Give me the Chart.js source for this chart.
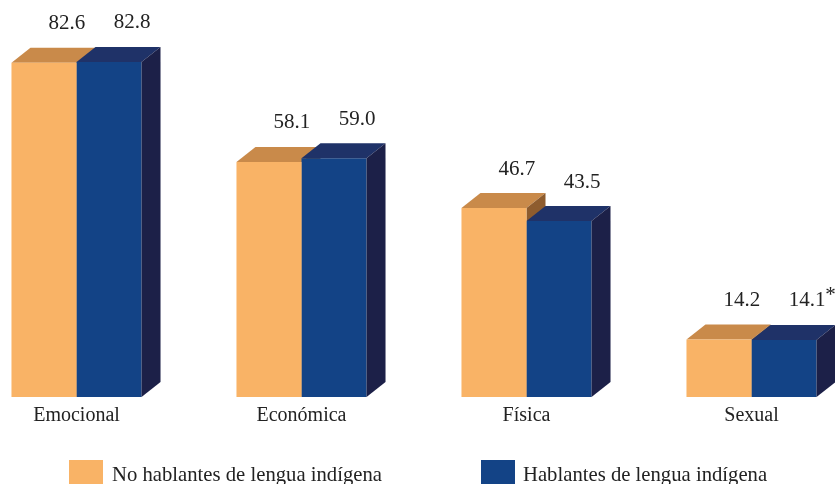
<!DOCTYPE html>
<html lang="es">
<head>
  <meta charset="UTF-8">
  <title>Tipos de violencia</title>
  <script src="https://cdn.jsdelivr.net/npm/chart.js"></script>
  <style>
    body { margin: 0; background: #fff; }
    #wrap { position: relative; width: 835px; height: 484px; overflow: hidden; }
    #chart { display: block; }
    .box { position: absolute; top: 460px; width: 34px; height: 24px; }
    .leg { position: absolute; top: 463px; font-family: "Liberation Serif", serif; font-size: 20.7px; color: #222; white-space: nowrap; }
  </style>
</head>
<body>
<div id="wrap">
  <canvas id="chart" width="835" height="484"></canvas>
  <div class="box" style="left:69px; background:#F9B366"></div>
  <div class="leg" style="left:112px">No hablantes de lengua indígena</div>
  <div class="box" style="left:481px; background:#134386"></div>
  <div class="leg" style="left:523px">Hablantes de lengua indígena</div>
</div>

<script>
  const categories = ["Emocional", "Económica", "Física", "Sexual"];
  const noHablantes = [82.6, 58.1, 46.7, 14.2];
  const hablantes = [82.8, 59.0, 43.5, 14.1];
  const hablantesNotes = ["", "", "", "*"];

  // front, top, side colours of each series
  const shades = [
    { front: "#F9B366", top: "#C98A4A", side: "#8E5C2E" },
    { front: "#134386", top: "#1F3268", side: "#1C2048" }
  ];
  const depthX = 19, depthY = 15;

  function drawBox(ctx, bar, shade) {
    const left = bar.x - bar.width / 2, right = bar.x + bar.width / 2;
    const top = bar.y, base = bar.base;
    ctx.fillStyle = shade.top;
    ctx.beginPath();
    ctx.moveTo(left, top);
    ctx.lineTo(left + depthX, top - depthY);
    ctx.lineTo(right + depthX, top - depthY);
    ctx.lineTo(right, top);
    ctx.closePath();
    ctx.fill();
    ctx.fillStyle = shade.side;
    ctx.beginPath();
    ctx.moveTo(right, top);
    ctx.lineTo(right + depthX, top - depthY);
    ctx.lineTo(right + depthX, base - depthY);
    ctx.lineTo(right, base);
    ctx.closePath();
    ctx.fill();
  }

  const boxes = {
    id: "boxes",
    beforeDatasetsDraw(chart) {
      const ctx = chart.ctx;
      ctx.save();
      chart.getDatasetMeta(0).data.forEach(bar => drawBox(ctx, bar, shades[0]));
      ctx.restore();
    },
    afterDatasetsDraw(chart) {
      const ctx = chart.ctx;
      ctx.save();
      chart.getDatasetMeta(1).data.forEach(bar => drawBox(ctx, bar, shades[1]));
      ctx.font = "21px 'Liberation Serif'";
      ctx.fillStyle = "#222";
      ctx.textAlign = "center";
      ctx.textBaseline = "middle";
      chart.data.datasets.forEach((ds, di) => {
        chart.getDatasetMeta(di).data.forEach((bar, i) => {
          const x = bar.x + 23, y = bar.y - 39;
          ctx.fillText(ds.data[i].toFixed(1), x, y);
          if (di === 1 && hablantesNotes[i]) {
            const w = ctx.measureText(ds.data[i].toFixed(1)).width;
            ctx.fillText(hablantesNotes[i], x + w / 2 + 5, y - 5);
          }
        });
      });
      ctx.restore();
    }
  };

  new Chart(document.getElementById("chart"), {
    type: "bar",
    data: {
      labels: categories,
      datasets: [
        { label: "No hablantes de lengua indígena", data: noHablantes, backgroundColor: shades[0].front, clip: false },
        { label: "Hablantes de lengua indígena", data: hablantes, backgroundColor: shades[1].front, clip: false }
      ]
    },
    options: {
      responsive: false,
      animation: false,
      devicePixelRatio: 1,
      categoryPercentage: 0.578,
      barPercentage: 1,
      layout: { padding: { left: 76.5, right: 83.5, top: 12.6, bottom: 49 } },
      plugins: { legend: { display: false }, tooltip: { enabled: false } },
      scales: {
        x: {
          offset: false,
          grid: { display: false, drawTicks: false },
          border: { display: false },
          ticks: { color: "#222", padding: 7, font: { family: "Liberation Serif", size: 20 } }
        },
        y: { display: false, min: 0, max: 95 }
      }
    },
    plugins: [boxes]
  });
</script>
</body>
</html>
